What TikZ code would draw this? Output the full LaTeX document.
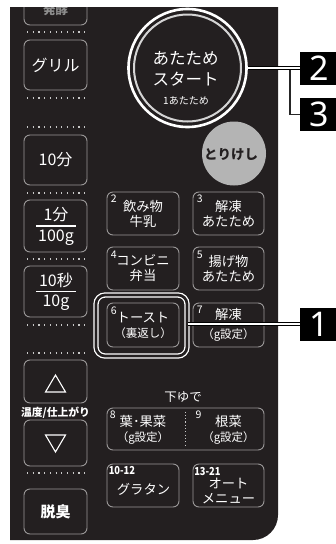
\documentclass[tikz,border=0pt]{standalone}
\usepackage{fontspec}
\setmainfont{Noto Sans CJK JP}
\newfontfamily\calloutfont{Noto Sans}
\usetikzlibrary{positioning}
\definecolor{PanelDark}{HTML}{231F20}
\definecolor{KeyRim}{HTML}{9A9898}
\definecolor{KeyDots}{HTML}{C8C8C8}
\definecolor{CancelGray}{HTML}{B4B4B4}
\definecolor{FadeText}{HTML}{8E8E8E}
\definecolor{RingSoft}{HTML}{D4D4D4}
\providecommand{\subsize}{\fontsize{11.5}{12}\selectfont}

\begin{document}
\begin{tikzpicture}[x=1pt, y=-1pt,
  keybox/.style={draw=KeyRim, line width=0.9pt, rounded corners=6pt, inner sep=0pt, text=white, align=center},
  keytxt/.style={text=white, align=center, inner sep=0pt, font=\fontsize{13.3}{15}\selectfont},
  bigtxt/.style={text=white, align=center, inner sep=0pt, font=\fontsize{16}{18}\selectfont},
  keynum/.style={text=white, inner sep=0pt, font=\fontsize{10.5}{10.5}\selectfont},
  dotrow/.style={draw=KeyDots, line width=1.2pt, dash pattern=on 1.2pt off 4.5pt},
  fracline/.style={draw=white, line width=1.3pt},
  callout/.style={fill=black, text=white, inner sep=0pt, minimum width=38pt, minimum height=33pt, font=\calloutfont\fontsize{34}{34}\selectfont},
  lead/.style={draw=black, line width=1pt, double=white, double distance=2.4pt},
  leadthin/.style={draw=black!85, line width=1.5pt},
]
\useasboundingbox (0,0) rectangle (335,544);
% ---------------- panel
\fill[PanelDark] (10,7) -- (278,7) -- (278,515) arc[start angle=0, end angle=-90, radius=25pt] -- (10,540) -- cycle;
% ---------------- left column
\begin{scope}
  \clip (10,7) rectangle (278,540);
  \node[keybox, minimum width=63pt, minimum height=50pt] (kferm) at (55.5,0) {};
  \node[text=FadeText, inner sep=0pt, font=\bfseries\fontsize{12.5}{12.5}\selectfont] (tferm) at (55.5,10) {発酵};
\end{scope}
\node[keybox, bigtxt, minimum width=63pt, minimum height=50pt] (kgrill) at (55.5,65) {グリル};
\node[keybox, bigtxt, minimum width=63pt, minimum height=50pt] (k10m) at (55.5,160) {10分};
\node[keybox, minimum width=63pt, minimum height=52pt] (k1m) at (55.5,226) {};
\node[bigtxt] (t1m) at (56,215) {1分};
\node[bigtxt] (t100g) at (56,237.5) {100g};
\draw[fracline] ([xshift=-19.5pt]k1m.center) -- ([xshift=20.5pt]k1m.center);
\node[keybox, minimum width=63pt, minimum height=51pt] (k10s) at (55.5,291.5) {};
\node[bigtxt] (t10s) at (56,280.5) {10秒};
\node[bigtxt] (t10g) at (56,303) {10g};
\draw[fracline] ([xshift=-19.5pt]k10s.center) -- ([xshift=20.5pt]k10s.center);
\node[keybox, minimum width=63pt, minimum height=43pt] (kup) at (55.5,381.5) {};
\draw[fracline, line width=1.1pt, line join=miter] (45.5,392) -- (65.5,392) -- (55.5,375) -- cycle;
\node[text=white, inner sep=0pt, font=\bfseries\fontsize{10.8}{10.8}\selectfont] (tmode) at (55.5,413) {温度/仕上がり};
\node[keybox, minimum width=63pt, minimum height=46pt] (kdown) at (55.5,443) {};
\draw[fracline, line width=1.1pt, line join=miter] (45.5,435) -- (65.5,435) -- (55.5,452) -- cycle;
\node[keybox, bigtxt, font=\bfseries\fontsize{15}{15}\selectfont, minimum width=63pt, minimum height=45pt] (kdeo) at (55.5,511.5) {脱臭};
\foreach \y in {32,98,127,193,259,325,353,473}
  \draw[dotrow] (27,\y) -- (86,\y);
% ---------------- start and cancel
\node[circle, draw=white, line width=2.6pt, fill=PanelDark, minimum size=118pt, inner sep=0pt] (start) at (187.5,68) {};
\draw[RingSoft, line width=2pt] (start.center) circle[radius=53.5pt];
\node[bigtxt, font=\fontsize{16.5}{21.5}\selectfont] (tstart) at (185.5,69) {あたため\\スタート};
\node[text=white, inner sep=0pt, font=\fontsize{10}{10}\selectfont] (tstart1) at (186,101) {1あたため};
\node[circle, fill=CancelGray, minimum size=64pt, inner sep=0pt] (cancel) at (234,153.5) {};
\node[text=PanelDark, inner sep=0pt, font=\bfseries\fontsize{13.5}{13.5}\selectfont] (tcancel) at (231,155) {とりけし};
% ---------------- menu keys
\def\xa{143} \def\xb{228.5}
\node[keybox, keytxt, minimum width=72pt, minimum height=43pt] (k2) at (\xa,213.5) {飲み物\\牛乳};
\node[keynum, below right=3pt and 4pt of k2.north west] (n2) {2};
\node[keybox, keytxt, minimum width=71pt, minimum height=43pt] (k3) at (\xb,213.5) {解凍\\あたため};
\node[keynum, below right=3pt and 4pt of k3.north west] (n3) {3};
\node[keybox, keytxt, minimum width=72pt, minimum height=43pt] (k4) at (\xa,268.5) {コンビニ\\弁当};
\node[keynum, below right=4pt and 4pt of k4.north west] (n4) {4};
\node[keybox, keytxt, minimum width=71pt, minimum height=43pt] (k5) at (\xb,268.5) {揚げ物\\あたため};
\node[keynum, below right=4pt and 4pt of k5.north west] (n5) {5};
\node[draw=white, line width=1.3pt, double=PanelDark, double distance=2.7pt, rounded corners=9pt, minimum width=91pt, minimum height=61pt, inner sep=0pt] (hilite) at (141.5,325.5) {};
\node[keybox, keytxt, minimum width=72pt, minimum height=44pt] (k6) at (\xa,325) {トースト\\{\subsize （裏返し）}};
\node[keynum, below right=4pt and 4pt of k6.north west] (n6) {6};
\node[keybox, keytxt, minimum width=71pt, minimum height=44pt] (k7) at (\xb,325) {解凍\\[4pt]{\subsize （g設定）}};
\node[keynum, below right=3pt and 4pt of k7.north west] (n7) {7};
\node[keytxt, font=\fontsize{12.5}{12.5}\selectfont] (tboil) at (183,397) {下ゆで};
\node[keybox, minimum width=157pt, minimum height=42pt] (k89) at (185.5,429) {};
\draw[draw=KeyDots, line width=1.1pt, dash pattern=on 1.1pt off 2.2pt] ([yshift=-4pt]k89.north) -- ([yshift=4pt]k89.south);
\node[keytxt] (t8) at (\xa,429.5) {葉･果菜\\{\subsize （g設定）}};
\node[keynum, below right=3pt and 3pt of k89.north west] (n8) {8};
\node[keytxt] (t9) at (\xb,429.5) {根菜\\{\subsize （g設定）}};
\node[keynum, below right=3pt and 10pt of k89.north] (n9) {9};
\node[keybox, minimum width=72pt, minimum height=43pt] (k10) at (\xa,485.5) {};
\node[keytxt] (t10) at (143.5,489) {グラタン};
\node[keynum, font=\bfseries\fontsize{11}{11}\selectfont, below right=3pt and 2pt of k10.north west] (n10) {\scalebox{0.85}[1]{10-12}};
\node[keybox, minimum width=71pt, minimum height=43pt] (k13) at (\xb,485.5) {};
\node[keytxt] (t13) at (228.5,490.5) {オート\\メニュー};
\node[keynum, font=\bfseries\fontsize{11}{11}\selectfont, below right=4pt and 1.5pt of k13.north west] (n13) {\scalebox{0.85}[1]{13-21}};
% ---------------- callouts
\node[callout] (c2) at (319,68) {2};
\node[callout] (c3) at (319,114.5) {3};
\node[callout] (c1) at (319,324) {1};
\coordinate (fork) at (290,68);
\draw[leadthin] (fork) |- (c3.west);
\draw[lead] (start.east) -- (c2.west);
\draw[lead] (hilite.east |- c1.west) -- (c1.west);
\end{tikzpicture}
\end{document}
